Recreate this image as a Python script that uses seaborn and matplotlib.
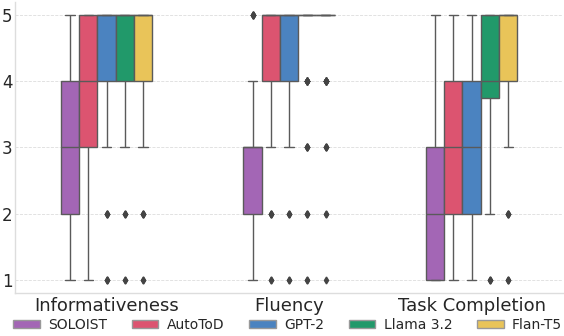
import numpy as np
import pandas as pd
import matplotlib
matplotlib.use('Agg')
import matplotlib.pyplot as plt
import seaborn as sns
from matplotlib.patches import Patch

# Human ratings (1-5) per model and metric
metrics = ['Informativeness', 'Fluency', 'Task Completion']
models = ['SOLOIST', 'AutoToD', 'GPT-2', 'Llama 3.2', 'Flan-T5']
scores = [1, 2, 3, 4, 5]
colors = ['#a366b5', '#dc5470', '#4b83c0', '#21996a', '#e9c459']

# number of ratings given for each score 1..5, one row per model
informativeness_counts = [
    [10, 25, 30, 25, 10],
    [8, 10, 15, 25, 42],
    [3, 4, 10, 30, 53],
    [2, 3, 10, 28, 57],
    [2, 4, 8, 30, 56],
]
fluency_counts = [
    [12, 30, 35, 18, 5],
    [2, 4, 10, 30, 54],
    [2, 3, 10, 32, 53],
    [2, 3, 5, 10, 80],
    [1, 2, 4, 10, 83],
]
task_counts = [
    [30, 25, 25, 12, 8],
    [12, 18, 30, 25, 15],
    [10, 20, 28, 27, 15],
    [3, 7, 15, 35, 40],
    [3, 4, 10, 30, 53],
]

# Long-form table for seaborn
rows = []
for metric, table in zip(metrics, [informativeness_counts, fluency_counts, task_counts]):
    for model, counts in zip(models, table):
        for s in np.repeat(scores, counts):
            rows.append({'Metric': metric, 'Model': model, 'Score': s})
df = pd.DataFrame(rows)

sns.set_style('whitegrid')
fig, ax = plt.subplots(figsize=(5.64, 3.36), dpi=100)

sns.boxplot(data=df, x='Metric', y='Score', hue='Model',
            order=metrics, hue_order=models, palette=colors,
            width=0.5, saturation=1, linecolor='#5a5a5a', linewidth=1,
            flierprops=dict(marker='d', markersize=3.5,
                            markerfacecolor='#444444', markeredgecolor='#444444'),
            legend=False, ax=ax)

ax.set_xlabel('')
ax.set_ylabel('')
ax.set_yticks([1, 2, 3, 4, 5])
ax.tick_params(axis='y', labelsize=12, pad=2, length=0)
ax.tick_params(axis='x', labelsize=13, pad=3, length=0)
ax.grid(axis='x', visible=False)
ax.grid(axis='y', linestyle='--', color='#dddddd', linewidth=0.6)
sns.despine(ax=ax)
for side in ['left', 'bottom']:
    ax.spines[side].set_color('#dddddd')
    ax.spines[side].set_linewidth(1)

handles = [Patch(facecolor=c, edgecolor='#999999', label=m) for m, c in zip(models, colors)]
fig.legend(handles=handles, loc='center', ncol=5, frameon=False,
           fontsize=10, bbox_to_anchor=(0.51, 0.033), handlelength=1.9,
           handleheight=0.6, columnspacing=1.8, handletextpad=0.6,
           borderpad=0, borderaxespad=0)

fig.subplots_adjust(left=0.027, right=0.998, top=0.995, bottom=0.128)
fig.savefig('out.png', dpi=100)
